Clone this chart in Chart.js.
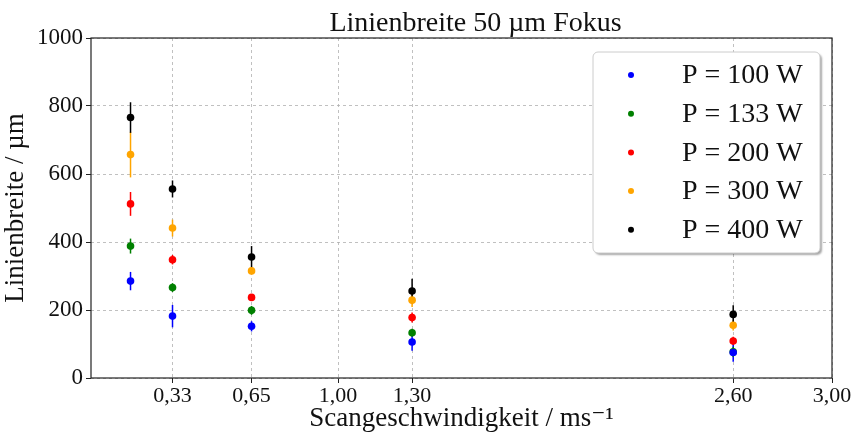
<!DOCTYPE html>
<html>
<head>
<meta charset="utf-8">
<script src="https://cdn.jsdelivr.net/npm/chart.js@4"></script>
<style>
    body { margin: 0; background: #fff; }
    #wrap { width: 853px; height: 435px; }
</style>
</head>
<body>
<div id="wrap"><canvas id="chart"></canvas></div>
<script>
// scan speeds (m/s)
const speeds = [0.16, 0.33, 0.65, 1.30, 2.60];
const xTicks = [0.33, 0.65, 1.00, 1.30, 2.60, 3.00];

const labels = ['P = 100 W', 'P = 133 W', 'P = 200 W', 'P = 300 W', 'P = 400 W'];
const colors = ['#0000ff', '#008000', '#ff0000', '#ffa500', '#000000'];

// line width (µm) per power
const w100 = [285, 182, 152, 106, 75];
const w133 = [388, 266, 199, 133, 77];
const w200 = [512, 348, 237, 178, 109];
const w300 = [657, 441, 315, 229, 155];
const w400 = [766, 556, 356, 256, 187];

// error (µm, +/-)
const e100 = [27, 33, 15, 26, 27];
const e133 = [22, 13, 13, 12, 15];
const e200 = [35, 14, 10, 15, 12];
const e300 = [67, 25, 10, 20, 15];
const e400 = [45, 25, 32, 36, 27];

const values = [w100, w133, w200, w300, w400];
const errors = [e100, e133, e200, e300, e400];

const TITLE = 'Linienbreite 50 µm Fokus';
const FONT = '"Liberation Serif", "DejaVu Serif", serif';

const errorBars = {
    id: 'errorBars',
    beforeDatasetsDraw(chart) {
        const ctx = chart.ctx;
        const x = chart.scales.x, y = chart.scales.y;
        ctx.save();
        ctx.lineWidth = 1.5;
        chart.data.datasets.forEach((ds, i) => {
            ctx.strokeStyle = ds.backgroundColor;
            ds.data.forEach((p, j) => {
                const e = errors[i][j];
                const px = x.getPixelForValue(p.x);
                ctx.beginPath();
                ctx.moveTo(px, y.getPixelForValue(p.y - e));
                ctx.lineTo(px, y.getPixelForValue(p.y + e));
                ctx.stroke();
            });
        });
        ctx.restore();
    }
};

// black box round the plot + title centred over it
const frame = {
    id: 'frame',
    beforeDatasetsDraw(chart) {
        const a = chart.chartArea;
        const ctx = chart.ctx;
        ctx.save();
        ctx.strokeStyle = '#222';
        ctx.lineWidth = 1.2;
        ctx.strokeRect(a.left, a.top, a.right - a.left, a.bottom - a.top);
        ctx.fillStyle = '#111';
        ctx.font = '28px ' + FONT;
        ctx.textAlign = 'center';
        ctx.textBaseline = 'alphabetic';
        ctx.fillText(TITLE, (a.left + a.right) / 2 + 14, a.top - 7);
        ctx.restore();
    }
};

const boxLegend = {
    id: 'boxLegend',
    afterDraw(chart) {
        const ctx = chart.ctx;
        const bx = 593, by = 52, bw = 227, bh = 201;
        ctx.save();
        ctx.shadowColor = 'rgba(0,0,0,0.35)';
        ctx.shadowOffsetX = 2;
        ctx.shadowOffsetY = 2;
        ctx.shadowBlur = 2;
        ctx.fillStyle = '#ffffff';
        ctx.beginPath();
        ctx.roundRect(bx, by, bw, bh, 5);
        ctx.fill();
        ctx.restore();
        ctx.save();
        ctx.strokeStyle = '#cccccc';
        ctx.lineWidth = 1;
        ctx.beginPath();
        ctx.roundRect(bx, by, bw, bh, 5);
        ctx.stroke();
        ctx.font = '28px ' + FONT;
        ctx.textBaseline = 'middle';
        chart.data.datasets.forEach((ds, i) => {
            const cy = by + 23 + i * 38.7;
            ctx.fillStyle = ds.backgroundColor;
            ctx.beginPath();
            ctx.arc(631, cy, 3, 0, Math.PI * 2);
            ctx.fill();
            ctx.fillStyle = '#111';
            ctx.fillText(ds.label, 682, cy + 1);
        });
        ctx.restore();
    }
};

new Chart(document.getElementById('chart'), {
    type: 'scatter',
    data: {
        datasets: values.map((vals, i) => ({
            label: labels[i],
            data: speeds.map((s, j) => ({ x: s, y: vals[j] })),
            backgroundColor: colors[i],
            borderColor: colors[i],
            pointRadius: 3.8,
            pointBorderWidth: 0
        }))
    },
    options: {
        responsive: true,
        maintainAspectRatio: false,
        animation: false,
        layout: { padding: { left: 0, right: 21, top: 38, bottom: 0 } },
        plugins: {
            legend: { display: false },
            tooltip: { enabled: false }
        },
        scales: {
            x: {
                type: 'linear',
                min: 0,
                max: 3,
                afterBuildTicks: scale => { scale.ticks = xTicks.map(v => ({ value: v })); },
                afterFit: scale => { scale.height = 57; },
                ticks: {
                    color: '#111',
                    font: { family: FONT, size: 22 },
                    padding: 0,
                    maxRotation: 0,
                    callback: v => v.toFixed(2).replace('.', ',')
                },
                grid: { color: '#b0b0b0', lineWidth: 0.8, tickColor: '#222', tickLength: 5, tickWidth: 1, tickBorderDash: [] },
                border: { display: false, dash: [3, 3] },
                title: {
                    display: true,
                    text: 'Scangeschwindigkeit / ms⁻¹',
                    color: '#111',
                    font: { family: FONT, size: 27 },
                    padding: { top: 0, bottom: 0 }
                }
            },
            y: {
                min: 0,
                max: 1000,
                afterFit: scale => { scale.width = 91; },
                ticks: {
                    stepSize: 200,
                    color: '#111',
                    font: { family: FONT, size: 23 },
                    padding: 3,
                    callback: v => String(v)
                },
                grid: { color: '#b0b0b0', lineWidth: 0.8, tickColor: '#222', tickLength: 5, tickWidth: 1, tickBorderDash: [] },
                border: { display: false, dash: [3, 3] },
                title: {
                    display: true,
                    text: 'Linienbreite / µm',
                    color: '#111',
                    font: { family: FONT, size: 27 },
                    padding: { top: 0, bottom: 2 }
                }
            }
        }
    },
    plugins: [errorBars, frame, boxLegend]
});
</script>
</body>
</html>
